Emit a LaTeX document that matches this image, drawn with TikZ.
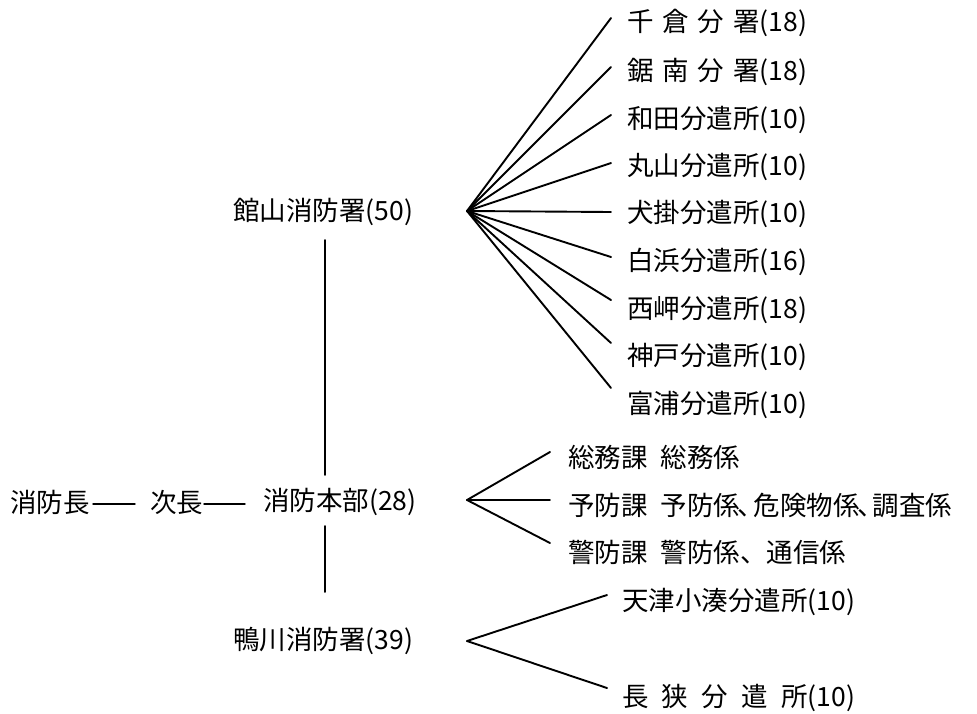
\documentclass[tikz,border=0pt]{standalone}
\usepackage{fontspec}
\setmainfont{Noto Sans CJK JP}
\begin{document}
\begin{tikzpicture}[x=1pt,y=-1pt,
  lbl/.style={anchor=west,inner sep=0pt,font=\fontsize{26.5}{30}\selectfont},
  conn/.style={line width=1.9pt,line cap=round}]
\useasboundingbox (0,0) rectangle (977,713);
% main column
\node[lbl] (chief) at (10,502) {消防長};
\node[lbl] (vice) at (150,502) {次長};
\node[lbl] (hq) at (263,502) {消防本部(28)};
\node[lbl] (tate) at (233,212) {館山消防署(50)};
\node[lbl] (kamo) at (233,641) {鴨川消防署(39)};
\coordinate (chiefE) at (93,504);
\coordinate (chiefF) at (135,504);
\coordinate (viceE) at (204,504);
\coordinate (viceF) at (245,504);
\draw[conn,line width=1.4pt] (chiefE) -- (chiefF);
\draw[conn,line width=1.4pt] (viceE) -- (viceF);
\coordinate (vt1) at (325,240);
\coordinate (vt2) at (325,475);
\coordinate (vb1) at (325,526);
\coordinate (vb2) at (325,592);
\draw[conn] (vt1) -- (vt2);
\draw[conn] (vb1) -- (vb2);
% Tateyama branches
\coordinate (fa) at (467,211);
\node[lbl] (t1) at (627,23) {千\hspace{0.333em}倉\hspace{0.333em}分\hspace{0.333em}署(18)};
\node[lbl] (t2) at (627,72) {鋸\hspace{0.333em}南\hspace{0.333em}分\hspace{0.333em}署(18)};
\node[lbl] (t3) at (627,120) {和田分遣所(10)};
\node[lbl] (t4) at (627,167) {丸山分遣所(10)};
\node[lbl] (t5) at (627,214) {犬掛分遣所(10)};
\node[lbl] (t6) at (627,262) {白浜分遣所(16)};
\node[lbl] (t7) at (627,310) {西岬分遣所(18)};
\node[lbl] (t8) at (627,357) {神戸分遣所(10)};
\node[lbl] (t9) at (627,405) {富浦分遣所(10)};
\coordinate (e1) at (611,18);
\coordinate (e2) at (611,67);
\coordinate (e3) at (611,115);
\coordinate (e4) at (611,163);
\coordinate (e5) at (611,212);
\coordinate (e6) at (611,257);
\coordinate (e7) at (611,300);
\coordinate (e8) at (611,343);
\coordinate (e9) at (611,388);
\foreach \i in {1,...,9} {\draw[conn] (fa) -- (e\i);}
% HQ branches
\coordinate (fb) at (467,500);
\node[lbl] (h1) at (568,457) {総務課\hspace{0.5em}総務係};
\node[lbl] (h2) at (568,505) {予防課\hspace{0.5em}予防係\kern-0.1em、\kern-0.4em危険物係\kern-0.1em、\kern-0.4em調査係};
\node[lbl] (h3) at (568,552) {警防課\hspace{0.5em}警防係、通信係};
\coordinate (g1) at (550,452);
\coordinate (g2) at (550,500);
\coordinate (g3) at (550,543);
\foreach \i in {1,2,3} {\draw[conn] (fb) -- (g\i);}
% Kamogawa branches
\coordinate (fc) at (467,641);
\node[lbl] (k1) at (622,602) {天津小湊分遣所(10)};
\node[lbl] (k2) at (622,698) {長\hspace{0.5em}狭\hspace{0.5em}分\hspace{0.5em}遣\hspace{0.5em}所(10)};
\coordinate (m1) at (607,595);
\coordinate (m2) at (607,688);
\draw[conn] (fc) -- (m1);
\draw[conn] (fc) -- (m2);
\end{tikzpicture}
\end{document}
